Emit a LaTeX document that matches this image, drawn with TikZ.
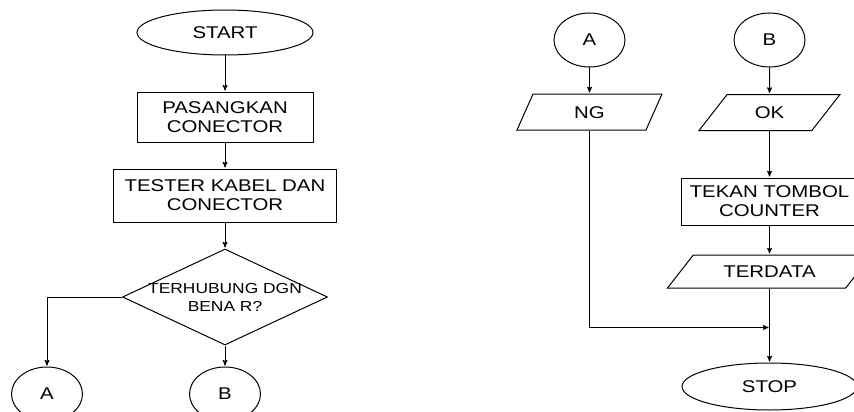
\documentclass[tikz,border=0pt]{standalone}
\usepackage{fontspec}
\newfontfamily\flowfont[FakeStretch=1.2]{Liberation Sans}
\usetikzlibrary{arrows,shapes.geometric,positioning}

\begin{document}
\begin{tikzpicture}[x=1pt,y=1pt,->,>=stealth',shorten >=1pt,line width=1pt,
  font=\flowfont\fontsize{17}{19}\selectfont,node distance=84pt,inner sep=0pt,
  terminal/.style={shape=ellipse, draw=black, minimum width=176, minimum height=45},
  proses/.style={shape=rectangle, draw=black, align=center, minimum width=176, minimum height=50},
  databox/.style={shape=trapezium, draw=black, trapezium left angle=52, trapezium right angle=128,
    trapezium stretches body, text height=24pt, text depth=12pt},
  keputusan/.style={shape=diamond, draw=black, minimum width=205, minimum height=96},
  konektor/.style={shape=ellipse, draw=black, minimum width=71, minimum height=54}]
\useasboundingbox (0,0) rectangle (854,-412);
% alur kiri
\node[terminal] (start) at (225,-32.5) {START};
\node[proses] (pasang) [below of=start, node distance=84.5pt] {PASANGKAN\\CONECTOR};
\node[proses, minimum width=223, minimum height=53] (tester) [below of=pasang, node distance=78.5pt] {TESTER KABEL DAN\\CONECTOR};
\node[keputusan, label={[align=center, font=\flowfont\fontsize{14.5}{18}\selectfont]center:TERHUBUNG DGN\\BENA R?}] (cek) [below of=tester, node distance=101.5pt] {};
\node[konektor] (A1) at (47,-394) {A};
\node[konektor] (B1) [below of=cek, node distance=97pt] {B};
% alur kanan
\node[konektor] (A2) at (589.5,-40) {A};
\node[konektor] (B2) [right of=A2, node distance=180pt] {B};
\node[databox, trapezium left angle=66, trapezium right angle=114, minimum width=145] (NG) [below of=A2, node distance=72pt] {NG};
\node[databox, minimum width=141] (OK) [below of=B2, node distance=72.5pt] {OK};
\node[proses, minimum height=47] (tekan) [below of=OK, node distance=89pt] {TEKAN TOMBOL\\COUNTER};
\node[databox, minimum width=204, text height=22.5pt, text depth=10.5pt] (terdata) [below of=tekan, node distance=70pt] {TERDATA};
\node[terminal, minimum width=175, minimum height=47] (stop) [below of=terdata, node distance=115pt] {STOP};
\path (terdata.south) ++(0,-39) coordinate (gabung);
\path (start) edge (pasang)
	(pasang) edge (tester)
	(tester) edge (cek)
	(cek) edge (B1)
	(A2) edge (NG)
	(B2) edge (OK)
	(OK) edge (tekan)
	(tekan) edge (terdata)
	(terdata) edge (stop);
\draw (cek.west) -| (A1.north);
\draw (NG.south) |- (gabung);
\end{tikzpicture}
\end{document}
